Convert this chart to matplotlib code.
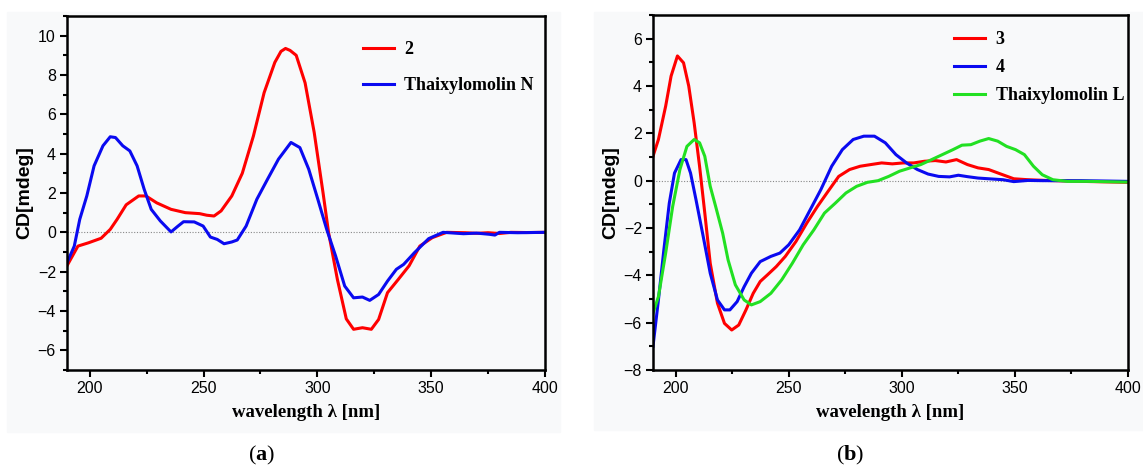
"""CD spectra of compounds 2-4 compared with thaixylomolins N and L."""
import matplotlib
matplotlib.use("Agg")
import matplotlib.pyplot as plt
from matplotlib.patches import Rectangle
from matplotlib.ticker import MultipleLocator

# ---- panel (a) ----
wl_a_2 = [190, 194.8, 199.5, 205, 209, 212, 216, 221.5, 224.7, 229.4, 235.7, 242, 248.3, 251.4,
          254.6, 257.7, 262.4, 267, 271.9, 276.6, 281.3, 284, 286, 288, 290.7, 294.6, 298.6, 302.5,
          304.9, 308.8, 312.7, 315.9, 319.8, 323.7, 326.9, 330.8, 335.5, 340.3, 345, 350.5, 356.8,
          365, 370, 375, 380, 385, 392, 400]
cd_a_2 = [-1.7, -0.7, -0.53, -0.3, 0.15, 0.66, 1.4, 1.85, 1.85, 1.5, 1.17, 1.0, 0.95, 0.87,
          0.83, 1.09, 1.85, 3.0, 4.9, 7.1, 8.64, 9.2, 9.35, 9.25, 9.0, 7.6, 5.08, 2.0,
          0.0, -2.4, -4.4, -4.93, -4.85, -4.93, -4.43, -3.07, -2.4, -1.7, -0.7, -0.27, 0.0,
          -0.02, -0.05, -0.02, -0.06, 0.0, -0.01, 0.0]

wl_a_N = [190, 193.2, 195.6, 198.7, 201.9, 205.8, 209, 211.3, 214.5, 217.6, 220.8, 223.9, 227,
          231, 235.7, 238.8, 241.2, 245.9, 249.8, 253, 256, 259, 262.4, 264.8, 268.7, 273.4,
          278.1, 282.9, 288.4, 292.3, 296.2, 300.2, 304.1, 308, 312, 315.9, 319.8, 323, 326.9,
          330.8, 334.7, 337.9, 342.6, 348.9, 355.2, 364.2, 370, 375.6, 378, 380, 388, 400]
cd_a_N = [-1.55, -0.7, 0.66, 1.85, 3.38, 4.4, 4.86, 4.82, 4.4, 4.14, 3.38, 2.19, 1.17,
          0.58, 0.02, 0.32, 0.54, 0.53, 0.32, -0.24, -0.36, -0.58, -0.49, -0.39, 0.32, 1.68,
          2.7, 3.72, 4.57, 4.31, 3.21, 1.68, 0.15, -1.2, -2.73, -3.33, -3.29, -3.46, -3.16,
          -2.48, -1.88, -1.63, -1.04, -0.32, 0.0, -0.07, -0.04, -0.1, -0.14, 0.0, -0.02, 0.0]

# ---- panel (b) ----
wl_b_3 = [190, 192.4, 195.6, 198, 200.8, 203.5, 205.8, 208.2, 210.6, 212.9, 215.3, 218.5, 221.6,
          224.8, 227.9, 231.1, 234.3, 237.4, 240.6, 244.5, 248.5, 253.2, 258, 262.7, 267.4,
          272.1, 276.9, 281.6, 286.3, 291.1, 295.8, 300.6, 305.3, 310, 314.8, 319.5, 324.2,
          329, 333.7, 338.4, 343.2, 349.5, 355.8, 363.7, 379.5, 400]
cd_b_3 = [1.03, 1.74, 3.15, 4.42, 5.27, 4.98, 4.0, 2.44, 0.6, -1.37, -3.49, -5.18, -6.03,
          -6.31, -6.1, -5.46, -4.76, -4.26, -3.98, -3.63, -3.2, -2.57, -1.79, -1.09, -0.45,
          0.18, 0.47, 0.61, 0.68, 0.75, 0.71, 0.75, 0.75, 0.82, 0.85, 0.79, 0.89,
          0.68, 0.54, 0.47, 0.3, 0.08, 0.04, 0.01, -0.03, -0.07]

wl_b_4 = [190, 192.4, 194.8, 197.2, 199.5, 202.4, 204.6, 206.6, 209, 212.2, 215.3, 218.5, 221.6,
          224, 227.2, 230.3, 233.5, 237.4, 242.1, 246.1, 250, 254.8, 259.5, 264.2, 269, 273.7,
          278.5, 283.2, 287.9, 292.7, 297.4, 302.1, 306.9, 311.6, 316.3, 321.1, 325, 329,
          333.7, 340, 344.8, 349.5, 355.8, 362.1, 379.5, 400]
cd_b_4 = [-7.0, -5.04, -2.92, -0.95, 0.32, 0.89, 0.89, 0.32, -0.8, -2.36, -3.91, -5.04, -5.46,
          -5.46, -5.11, -4.48, -3.91, -3.42, -3.2, -3.06, -2.71, -2.08, -1.23, -0.38, 0.61, 1.31,
          1.74, 1.88, 1.88, 1.6, 1.1, 0.75, 0.47, 0.28, 0.18, 0.16, 0.23, 0.17,
          0.11, 0.07, 0.04, -0.04, 0.01, 0.0, 0.0, -0.03]

wl_b_L = [190, 192.4, 195.6, 198.7, 201.9, 205, 208.2, 210.6, 212.9, 215.3, 217.7, 220.8, 223.2,
          226.4, 230.3, 233.5, 237.4, 242.1, 246.9, 251.6, 256.4, 261.1, 265.8, 270.6, 275.3,
          280, 284.8, 289.5, 294.2, 299, 303.7, 308.4, 313.2, 317.9, 322.6, 326.6, 330.5,
          334.5, 338.4, 342.4, 346.3, 350.3, 354.2, 358.2, 362.1, 366.8, 373.2, 382.6, 400]
cd_b_L = [-5.6, -4.9, -3.06, -1.09, 0.47, 1.45, 1.74, 1.6, 1.03, -0.24, -1.09, -2.22, -3.35,
          -4.4, -5.04, -5.25, -5.11, -4.76, -4.19, -3.49, -2.71, -2.08, -1.37, -0.95, -0.52,
          -0.24, -0.07, 0.0, 0.18, 0.4, 0.54, 0.68, 0.89, 1.1, 1.31, 1.5, 1.52,
          1.67, 1.78, 1.67, 1.45, 1.31, 1.1, 0.61, 0.25, 0.04, -0.03, -0.03, -0.06]

RED, BLUE, GREEN = "#ff0000", "#0a0af0", "#22e022"
BG = "#f8f9fa"
SERIF = ["Liberation Serif", "DejaVu Serif"]
SANS = ["Liberation Sans", "DejaVu Sans"]

plt.rcParams["mathtext.fontset"] = "custom"
plt.rcParams["mathtext.bf"] = "Liberation Serif:bold"
plt.rcParams["mathtext.rm"] = "Liberation Serif"


def style_axes(ax, ylim, ystep):
    ax.set_facecolor(BG)
    ax.set_xlim(190, 400)
    ax.set_ylim(*ylim)
    ax.axhline(0, color="#888888", lw=0.8, ls=(0, (1, 1.5)), zorder=1)
    ax.xaxis.set_major_locator(MultipleLocator(50))
    ax.xaxis.set_minor_locator(MultipleLocator(25))
    ax.yaxis.set_major_locator(MultipleLocator(ystep))
    ax.yaxis.set_minor_locator(MultipleLocator(ystep / 2))
    ax.tick_params(which="both", direction="out", width=1.5, top=False, right=False,
                   labelsize=11.5, pad=3)
    ax.tick_params(which="major", length=5)
    ax.tick_params(which="minor", length=3)
    for lab in ax.get_xticklabels() + ax.get_yticklabels():
        lab.set_family(SANS)
    for sp in ax.spines.values():
        sp.set_linewidth(1.8)
    ax.set_ylabel("CD[mdeg]", family=SANS, fontweight="bold", fontsize=14, labelpad=3)
    ax.set_xlabel("wavelength λ [nm]", family=SERIF, fontweight="bold",
                  fontsize=13.5, labelpad=6)


fig = plt.figure(figsize=(11.43, 4.72), dpi=100)

# light grey panel backgrounds
fig.add_artist(Rectangle((7 / 1143, 1 - 432 / 472), 553 / 1143, 420 / 472,
                         transform=fig.transFigure, color=BG, zorder=0))
fig.add_artist(Rectangle((594 / 1143, 1 - 430 / 472), 549 / 1143, 418 / 472,
                         transform=fig.transFigure, color=BG, zorder=0))

ax_a = fig.add_axes([67 / 1143, 1 - 370 / 472, 478 / 1143, 354 / 472])
ax_a.plot(wl_a_2, cd_a_2, color=RED, lw=2.2, label="2")
ax_a.plot(wl_a_N, cd_a_N, color=BLUE, lw=2.2, label="Thaixylomolin N")
style_axes(ax_a, (-7, 11), 2)
ax_a.legend(loc="upper left", bbox_to_anchor=(0.585, 0.975), frameon=False,
            prop={"family": SERIF, "weight": "bold", "size": 13},
            handlelength=1.7, handletextpad=0.6, labelspacing=1.05)

ax_b = fig.add_axes([653 / 1143, 1 - 370 / 472, 475 / 1143, 355 / 472])
ax_b.plot(wl_b_3, cd_b_3, color=RED, lw=2.2, label="3")
ax_b.plot(wl_b_4, cd_b_4, color=BLUE, lw=2.2, label="4")
ax_b.plot(wl_b_L, cd_b_L, color=GREEN, lw=2.2, label="Thaixylomolin L")
style_axes(ax_b, (-8, 7), 2)
ax_b.legend(loc="upper left", bbox_to_anchor=(0.6, 1.0), frameon=False,
            prop={"family": SERIF, "weight": "bold", "size": 13},
            handlelength=1.7, handletextpad=0.6, labelspacing=0.6)

for x_px, letter in [(262, "a"), (850, "b")]:
    fig.text(x_px / 1143, 1 - 455 / 472, r"$\mathrm{(}\mathbf{" + letter + r"}\mathrm{)}$",
             ha="center", va="center", fontsize=16)

fig.savefig("out.png", dpi=100)
